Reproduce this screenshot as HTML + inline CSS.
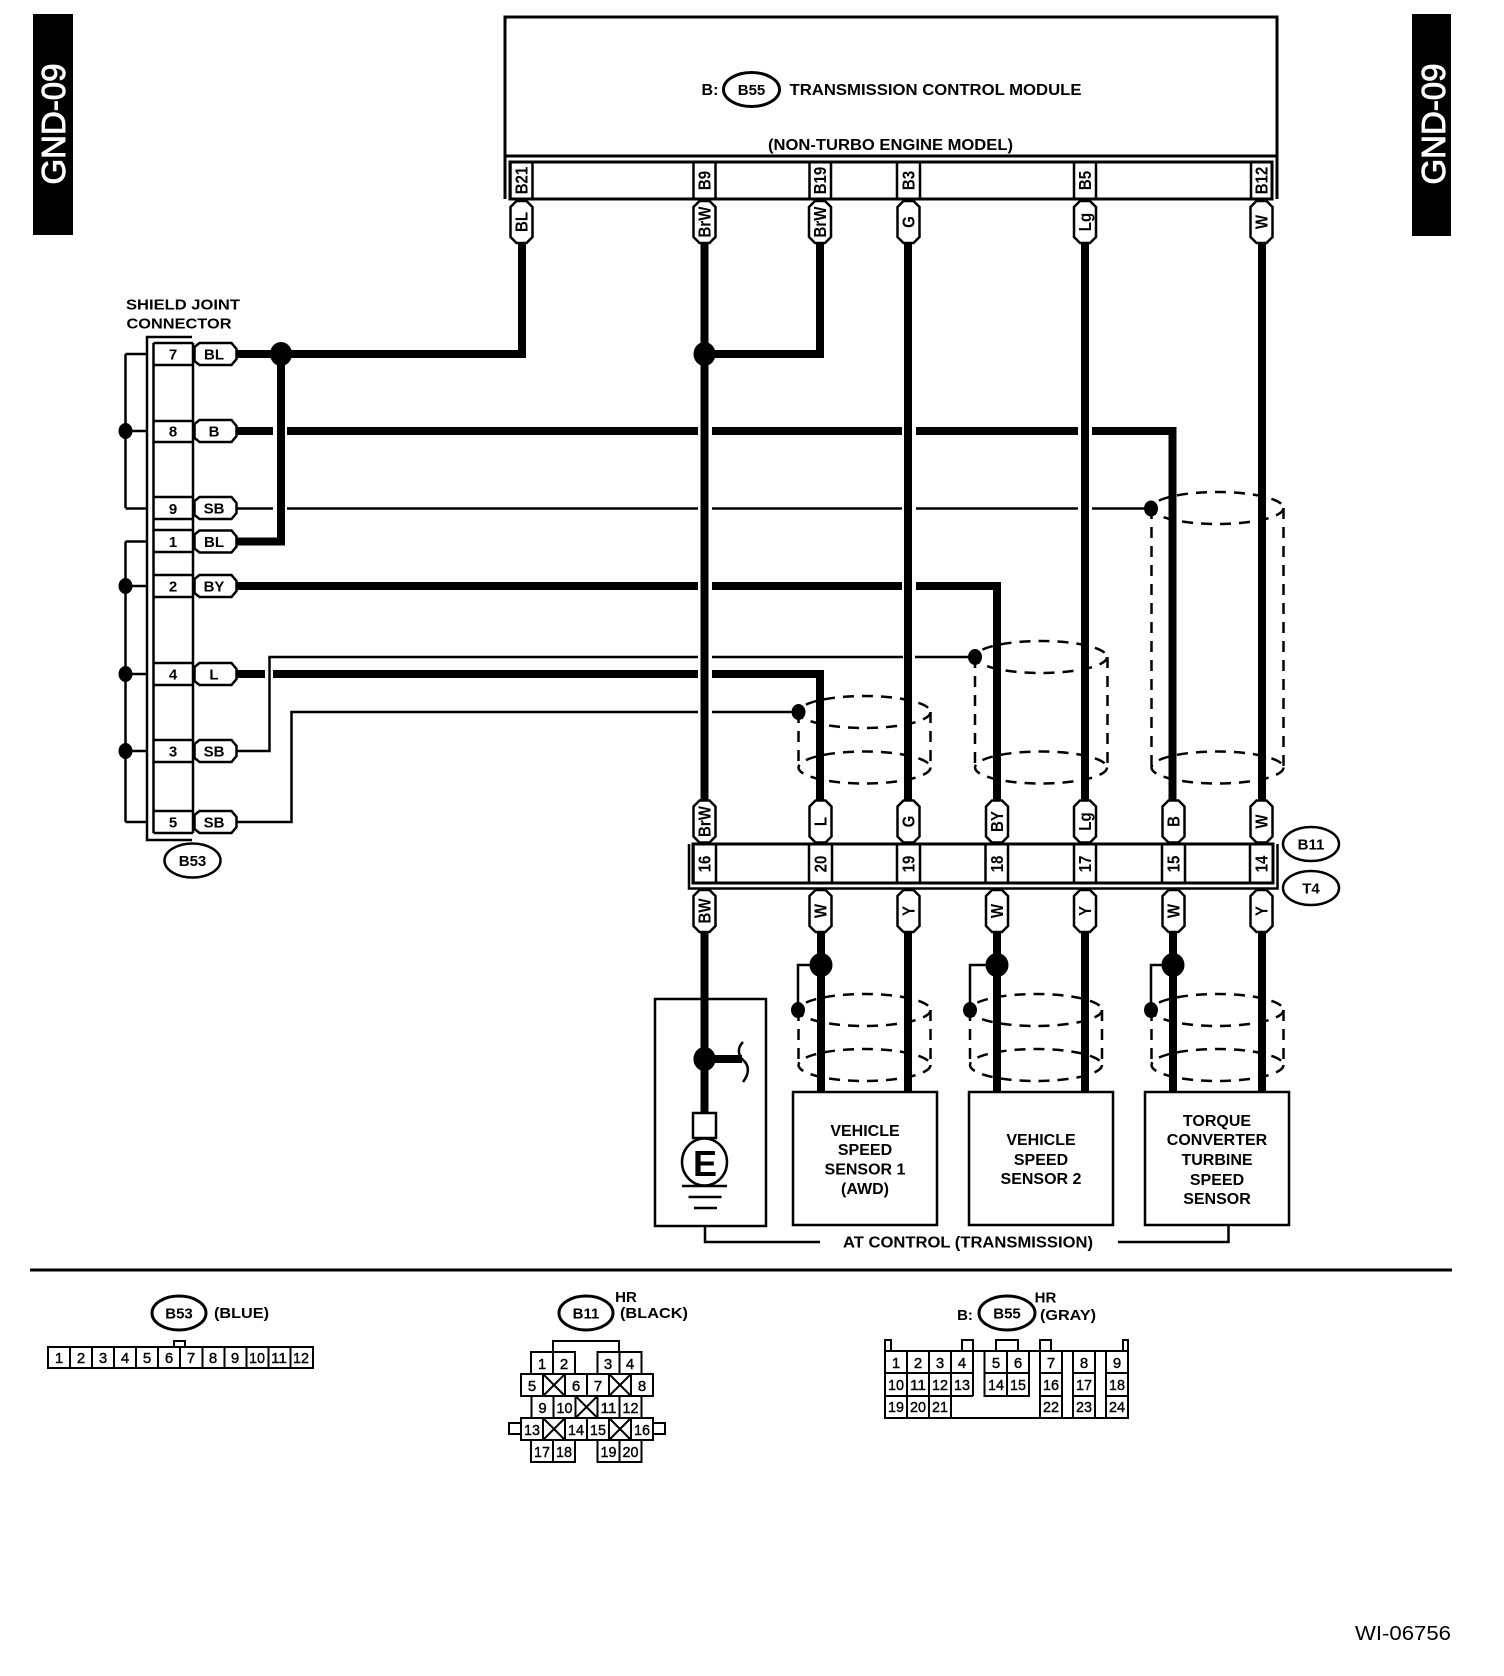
<!DOCTYPE html>
<html><head><meta charset="utf-8"><style>
html,body{margin:0;padding:0;background:#fff}
svg{display:block}
text{font-family:"Liberation Sans",sans-serif;fill:#000;text-anchor:middle}
.b{font-weight:bold;font-size:16px}
.s{font-weight:bold;font-size:15px}
.v{font-weight:bold;font-size:17.500px}
.n{font-size:15px;stroke:#000;stroke-width:.4}
.st{fill:none;stroke:#000;stroke-width:2.5}
.th{fill:none;stroke:#000;stroke-width:8}
.da{fill:none;stroke:#000;stroke-width:2.5;stroke-dasharray:11 8}
.c{fill:#fff;stroke:#000;stroke-width:2}
.p{fill:#fff;stroke:#000;stroke-width:2.5}
</style></head><body>
<svg width="1504" height="1676" viewBox="0 0 1504 1676" xmlns="http://www.w3.org/2000/svg">
<defs>
<polygon id="vp" points="-11,-15 -5,-21 5,-21 11,-15 11,15 5,21 -5,21 -11,15" class="p"/>
<polygon id="hp" points="-21,-7 -16,-11 16,-11 21,-5 21,5 16,11 -16,11 -21,7" class="p"/>
</defs>
<rect width="1504" height="1676" fill="#fff"/>

<!-- side tabs -->
<rect x="33" y="14" width="40" height="221" fill="#000"/>
<rect x="1412" y="14" width="39" height="222" fill="#000"/>
<text transform="translate(65,124) rotate(-90)" style="fill:#fff;stroke:#fff;stroke-width:.9;font-size:33px">GND-09</text>
<text transform="translate(1445,124) rotate(-90)" style="fill:#fff;stroke:#fff;stroke-width:.9;font-size:33px">GND-09</text>

<!-- TCM box -->
<path class="st" style="stroke-width:3" d="M505 199V17H1277V199M505 156H1277"/>
<rect x="510" y="162" width="762" height="37" class="st" style="stroke-width:3"/>
<text class="b" x="710" y="95">B:</text>
<ellipse cx="751.5" cy="89.5" rx="28" ry="17" class="st" style="stroke-width:3"/>
<text class="s" x="751.5" y="95">B55</text>
<text class="b" x="935.5" y="95" textLength="292" lengthAdjust="spacingAndGlyphs">TRANSMISSION CONTROL MODULE</text>
<text class="b" x="890.5" y="150" textLength="245" lengthAdjust="spacingAndGlyphs">(NON-TURBO ENGINE MODEL)</text>

<!-- cylinders -->
<ellipse class="da" cx="864.5" cy="712" rx="66" ry="16"/>
<ellipse class="da" cx="864.5" cy="767.5" rx="66" ry="16"/>
<path class="da" d="M798.5 712V767M930.5 712V767"/>
<ellipse class="da" cx="1041" cy="657" rx="66" ry="16"/>
<ellipse class="da" cx="1041" cy="767.5" rx="66" ry="16"/>
<path class="da" d="M975 657V767M1107.5 657V767"/>
<ellipse class="da" cx="1217.5" cy="508" rx="66" ry="16"/>
<ellipse class="da" cx="1217.5" cy="767.5" rx="66" ry="16"/>
<path class="da" d="M1151.5 508V767M1283.5 508V767"/>
<ellipse class="da" cx="864.5" cy="1010" rx="66" ry="16"/>
<ellipse class="da" cx="864.5" cy="1065" rx="66" ry="16"/>
<path class="da" d="M798.5 1010V1065M930.5 1010V1065"/>
<ellipse class="da" cx="1036" cy="1010" rx="66" ry="16"/>
<ellipse class="da" cx="1036" cy="1065" rx="66" ry="16"/>
<path class="da" d="M970 1010V1065M1102 1010V1065"/>
<ellipse class="da" cx="1217.5" cy="1010" rx="66" ry="16"/>
<ellipse class="da" cx="1217.5" cy="1065" rx="66" ry="16"/>
<path class="da" d="M1151.5 1010V1065M1283.5 1010V1065"/>

<!-- thin wires -->
<path class="st" d="M237 508.5H273M287 508.5H698M712 508.5H902M916 508.5H1078M1092 508.5H1151"/>
<path class="st" d="M237 751H269.5V657H698M712 657H903M915 657H975"/>
<path class="st" d="M237 822H291.5V712H698M712 712H798"/>
<path class="st" d="M798 1010V965H820M970 1010V965H997M1151 1010V965H1173"/>

<!-- thick wires -->
<path class="th" d="M237 354H522V244"/>
<path class="th" d="M281 354V541.5H237"/>
<path class="th" d="M704.5 244V800"/>
<path class="th" d="M704.5 354H820V244"/>
<path class="th" d="M908 244V800M1085 244V800M1262 244V800"/>
<path class="th" d="M237 431H273M287 431H698M712 431H902M916 431H1078M1092 431H1172.5V800"/>
<path class="th" d="M237 586H698M712 586H902M916 586H997V800"/>
<path class="th" d="M237 674H265M273 674H698M712 674H820V800"/>
<path class="th" d="M704.5 932V1113"/>
<path class="th" d="M821 932V1092M908 932V1092M997 932V1092M1085 932V1092M1173 932V1092M1262 932V1092"/>
<path class="th" d="M704 1059H742"/>

<!-- junction dots -->
<ellipse cx="281" cy="354" rx="11" ry="12"/>
<ellipse cx="704.5" cy="354" rx="11" ry="12"/>
<ellipse cx="704.5" cy="1059" rx="11" ry="12"/>
<ellipse cx="821" cy="965" rx="11.5" ry="12"/>
<ellipse cx="997" cy="965" rx="11.5" ry="12"/>
<ellipse cx="1173" cy="965" rx="11.5" ry="12"/>
<ellipse cx="1151" cy="508.5" rx="7" ry="8"/>
<ellipse cx="975" cy="657" rx="7" ry="8"/>
<ellipse cx="798.5" cy="712" rx="7" ry="8"/>
<ellipse cx="798" cy="1010" rx="7" ry="8"/>
<ellipse cx="970" cy="1010" rx="7" ry="8"/>
<ellipse cx="1151" cy="1010" rx="7" ry="8"/>

<!-- top pins -->
<path class="st" d="M510.5 162V199M532.5 162V199M693.5 162V199M715.5 162V199M809.5 162V199M831 162V199M897 162V199M920 162V199M1074 162V199M1096 162V199M1251 162V199M1272 162V199"/>
<text class="v" transform="translate(521.5,180.5) rotate(-90) scale(.86,1)" y="6">B21</text>
<text class="v" transform="translate(704.5,180.5) rotate(-90) scale(.86,1)" y="6">B9</text>
<text class="v" transform="translate(820,180.5) rotate(-90) scale(.86,1)" y="6">B19</text>
<text class="v" transform="translate(908.5,180.5) rotate(-90) scale(.86,1)" y="6">B3</text>
<text class="v" transform="translate(1085,180.5) rotate(-90) scale(.86,1)" y="6">B5</text>
<text class="v" transform="translate(1261.5,180.5) rotate(-90) scale(.86,1)" y="6">B12</text>
<use href="#vp" x="521.5" y="222"/><text class="v" transform="translate(521.5,222) rotate(-90) scale(.86,1)" y="6">BL</text>
<use href="#vp" x="704.5" y="222"/><text class="v" transform="translate(704.5,222) rotate(-90) scale(.86,1)" y="6">BrW</text>
<use href="#vp" x="820" y="222"/><text class="v" transform="translate(820,222) rotate(-90) scale(.86,1)" y="6">BrW</text>
<use href="#vp" x="908.5" y="222"/><text class="v" transform="translate(908.5,222) rotate(-90) scale(.86,1)" y="6">G</text>
<use href="#vp" x="1085" y="222"/><text class="v" transform="translate(1085,222) rotate(-90) scale(.86,1)" y="6">Lg</text>
<use href="#vp" x="1261.5" y="222"/><text class="v" transform="translate(1261.5,222) rotate(-90) scale(.86,1)" y="6">W</text>

<!-- shield joint connector -->
<text class="s" x="183" y="309.5" textLength="114" lengthAdjust="spacingAndGlyphs">SHIELD JOINT</text>
<text class="s" x="179" y="328.5" textLength="105" lengthAdjust="spacingAndGlyphs">CONNECTOR</text>
<path class="st" d="M192 337H147V840H192M153.5 343V833M193 343V833"/>
<path class="st" d="M125.5 354V508M147 354H125.5M147 431H125.5M147 508.5H125.5M125.5 541.5V822M147 541.5H125.5M147 586H125.5M147 674H125.5M147 751H125.5M147 822H125.5"/>
<ellipse cx="125.5" cy="431" rx="7" ry="8"/>
<ellipse cx="125.5" cy="586" rx="7" ry="8"/>
<ellipse cx="125.5" cy="674" rx="7" ry="8"/>
<ellipse cx="125.5" cy="751" rx="7" ry="8"/>
<path class="st" d="M153.5 343H193M153.5 365H193M153.5 421H193M153.5 442H193M153.5 497H193M153.5 519H193M153.5 530H193M153.5 552H193M153.5 575H193M153.5 597H193M153.5 663H193M153.5 685H193M153.5 740H193M153.5 762H193M153.5 811H193M153.5 833H193"/>
<g class="s">
<text class="s" x="173" y="359.5">7</text><text class="s" x="173" y="436.5">8</text><text class="s" x="173" y="514">9</text><text class="s" x="173" y="547">1</text><text class="s" x="173" y="591.5">2</text><text class="s" x="173" y="679.5">4</text><text class="s" x="173" y="756.5">3</text><text class="s" x="173" y="827.5">5</text>
</g>
<use href="#hp" x="215.5" y="354"/><text class="s" x="214" y="359.5">BL</text>
<use href="#hp" x="215.5" y="431"/><text class="s" x="214" y="436.5">B</text>
<use href="#hp" x="215.5" y="508"/><text class="s" x="214" y="513.5">SB</text>
<use href="#hp" x="215.5" y="541.5"/><text class="s" x="214" y="547">BL</text>
<use href="#hp" x="215.5" y="586"/><text class="s" x="214" y="591.5">BY</text>
<use href="#hp" x="215.5" y="674"/><text class="s" x="214" y="679.5">L</text>
<use href="#hp" x="215.5" y="751"/><text class="s" x="214" y="756.5">SB</text>
<use href="#hp" x="215.5" y="822"/><text class="s" x="214" y="827.5">SB</text>
<ellipse cx="192.5" cy="860.5" rx="28" ry="17" class="st"/>
<text class="s" x="192.5" y="866">B53</text>

<!-- lower connector -->
<rect x="693" y="844" width="580" height="39" class="st" style="stroke-width:3"/>
<path class="st" d="M689 844V888.5H1277.5V844"/>
<path class="st" d="M693.5 844V883M716 844V883M809 844V883M832 844V883M897 844V883M920 844V883M985.5 844V883M1008 844V883M1074 844V883M1096 844V883M1162 844V883M1185 844V883M1250 844V883M1273 844V883"/>
<text class="v" transform="translate(704.5,864) rotate(-90) scale(.86,1)" y="6">16</text>
<text class="v" transform="translate(820.5,864) rotate(-90) scale(.86,1)" y="6">20</text>
<text class="v" transform="translate(908.5,864) rotate(-90) scale(.86,1)" y="6">19</text>
<text class="v" transform="translate(997,864) rotate(-90) scale(.86,1)" y="6">18</text>
<text class="v" transform="translate(1085,864) rotate(-90) scale(.86,1)" y="6">17</text>
<text class="v" transform="translate(1173.5,864) rotate(-90) scale(.86,1)" y="6">15</text>
<text class="v" transform="translate(1261.5,864) rotate(-90) scale(.86,1)" y="6">14</text>
<use href="#vp" x="704.5" y="821.5"/><text class="v" transform="translate(704.5,821.5) rotate(-90) scale(.86,1)" y="6">BrW</text>
<use href="#vp" x="820.5" y="821.5"/><text class="v" transform="translate(820.5,821.5) rotate(-90) scale(.86,1)" y="6">L</text>
<use href="#vp" x="908.5" y="821.5"/><text class="v" transform="translate(908.5,821.5) rotate(-90) scale(.86,1)" y="6">G</text>
<use href="#vp" x="997" y="821.5"/><text class="v" transform="translate(997,821.5) rotate(-90) scale(.86,1)" y="6">BY</text>
<use href="#vp" x="1085" y="821.5"/><text class="v" transform="translate(1085,821.5) rotate(-90) scale(.86,1)" y="6">Lg</text>
<use href="#vp" x="1173.5" y="821.5"/><text class="v" transform="translate(1173.5,821.5) rotate(-90) scale(.86,1)" y="6">B</text>
<use href="#vp" x="1261.5" y="821.5"/><text class="v" transform="translate(1261.5,821.5) rotate(-90) scale(.86,1)" y="6">W</text>
<use href="#vp" x="704.5" y="911"/><text class="v" transform="translate(704.5,911) rotate(-90) scale(.86,1)" y="6">BW</text>
<use href="#vp" x="820.5" y="911"/><text class="v" transform="translate(820.5,911) rotate(-90) scale(.86,1)" y="6">W</text>
<use href="#vp" x="908.5" y="911"/><text class="v" transform="translate(908.5,911) rotate(-90) scale(.86,1)" y="6">Y</text>
<use href="#vp" x="997" y="911"/><text class="v" transform="translate(997,911) rotate(-90) scale(.86,1)" y="6">W</text>
<use href="#vp" x="1085" y="911"/><text class="v" transform="translate(1085,911) rotate(-90) scale(.86,1)" y="6">Y</text>
<use href="#vp" x="1173.5" y="911"/><text class="v" transform="translate(1173.5,911) rotate(-90) scale(.86,1)" y="6">W</text>
<use href="#vp" x="1261.5" y="911"/><text class="v" transform="translate(1261.5,911) rotate(-90) scale(.86,1)" y="6">Y</text>
<ellipse cx="1311" cy="844" rx="28" ry="17" class="st"/><text class="s" x="1311" y="849.5">B11</text>
<ellipse cx="1311" cy="888" rx="28" ry="17" class="st"/><text class="s" x="1311" y="893.5">T4</text>

<!-- ground box -->
<rect x="655" y="999" width="111" height="227" class="st"/>
<path class="th" d="M704.5 999V1113"/>
<ellipse cx="704.5" cy="1059" rx="11" ry="12"/>
<path class="th" d="M704 1059H742"/>
<path class="st" d="M743 1042C737 1048 738 1055 743 1060C749 1065 750 1073 743 1082"/>
<rect x="693" y="1113" width="23" height="25" class="p"/>
<ellipse cx="704.5" cy="1162" rx="22.5" ry="23.5" class="p"/>
<text x="705" y="1176" style="font-weight:bold;font-size:36px">E</text>
<path class="st" d="M682 1186H727M688.5 1197H721.5M694 1208H717"/>

<!-- sensors -->
<rect x="793" y="1092" width="144" height="133" class="p"/>
<rect x="969" y="1092" width="144" height="133" class="p"/>
<rect x="1145" y="1092" width="144" height="133" class="p"/>
<text class="b" x="865" y="1136">VEHICLE</text><text class="b" x="865" y="1155">SPEED</text><text class="b" x="865" y="1174.5">SENSOR 1</text><text class="b" x="865" y="1194">(AWD)</text>
<text class="b" x="1041" y="1145">VEHICLE</text><text class="b" x="1041" y="1165">SPEED</text><text class="b" x="1041" y="1184">SENSOR 2</text>
<text class="b" x="1217" y="1126">TORQUE</text><text class="b" x="1217" y="1145">CONVERTER</text><text class="b" x="1217" y="1165">TURBINE</text><text class="b" x="1217" y="1185">SPEED</text><text class="b" x="1217" y="1204">SENSOR</text>
<path class="st" d="M705 1226V1242H820M1118 1242H1228.5V1226"/>
<text class="b" x="968" y="1247.5" textLength="250" lengthAdjust="spacingAndGlyphs">AT CONTROL (TRANSMISSION)</text>

<!-- divider -->
<rect x="30" y="1268.5" width="1422" height="3" fill="#000"/>

<!-- B53 legend -->
<ellipse cx="179" cy="1313" rx="27" ry="17" class="st" style="stroke-width:3"/>
<text class="s" x="179" y="1318.5">B53</text>
<text class="s" x="241.5" y="1318" textLength="55" lengthAdjust="spacingAndGlyphs">(BLUE)</text>
<rect x="174" y="1341" width="11" height="6" class="c"/>
<rect x="48" y="1347" width="265" height="21" class="c"/>
<path class="c" d="M70 1347V1368M92 1347V1368M114 1347V1368M136 1347V1368M158 1347V1368M180 1347V1368M202.500 1347V1368M224.500 1347V1368M246.500 1347V1368M268.500 1347V1368M290.500 1347V1368"/>
<text class="n" x="59" y="1363">1</text><text class="n" x="81" y="1363">2</text><text class="n" x="103" y="1363">3</text><text class="n" x="125" y="1363">4</text><text class="n" x="147" y="1363">5</text><text class="n" x="169" y="1363">6</text><text class="n" x="191" y="1363">7</text><text class="n" x="213" y="1363">8</text><text class="n" x="235" y="1363">9</text><text class="n" x="257" y="1363" textLength="16" lengthAdjust="spacingAndGlyphs">10</text><text class="n" x="279" y="1363" textLength="16" lengthAdjust="spacingAndGlyphs">11</text><text class="n" x="301" y="1363" textLength="16" lengthAdjust="spacingAndGlyphs">12</text>

<!-- B11 legend -->
<ellipse cx="586" cy="1313" rx="27" ry="17" class="st" style="stroke-width:3"/>
<text class="s" x="586" y="1318.5">B11</text>
<text class="s" x="626" y="1302">HR</text>
<text class="s" x="654" y="1318" textLength="68" lengthAdjust="spacingAndGlyphs">(BLACK)</text>
<path class="c" d="M553 1352V1341H619V1352" style="fill:none"/>
<rect x="531" y="1352" width="44" height="22" class="c"/><path class="c" d="M553 1352V1374"/>
<rect x="597.500" y="1352" width="44" height="22" class="c"/><path class="c" d="M619.500 1352V1374"/>
<rect x="521" y="1374" width="132" height="22" class="c"/><path class="c" d="M543 1374V1396M565 1374V1396M587 1374V1396M609 1374V1396M631 1374V1396M543 1374L565 1396M565 1374L543 1396M609 1374L631 1396M631 1374L609 1396"/>
<rect x="531.500" y="1396" width="110" height="22" class="c"/><path class="c" d="M553.500 1396V1418M575.500 1396V1418M597.500 1396V1418M619.500 1396V1418M575.500 1396L597.500 1418M597.500 1396L575.500 1418" style="fill:none"/>
<rect x="509" y="1423" width="12" height="11" class="c"/><rect x="653" y="1423" width="12" height="11" class="c"/>
<rect x="521" y="1418" width="132" height="22" class="c"/><path class="c" d="M543 1418V1440M565 1418V1440M587 1418V1440M609 1418V1440M631 1418V1440M543 1418L565 1440M565 1418L543 1440M609 1418L631 1440M631 1418L609 1440"/>
<rect x="531" y="1440" width="44" height="22" class="c"/><path class="c" d="M553 1440V1462"/>
<rect x="597.500" y="1440" width="44" height="22" class="c"/><path class="c" d="M619.500 1440V1462"/>
<text class="n" x="542" y="1369">1</text><text class="n" x="564" y="1369">2</text><text class="n" x="608" y="1369">3</text><text class="n" x="630" y="1369">4</text>
<text class="n" x="532" y="1391">5</text><text class="n" x="576" y="1391">6</text><text class="n" x="598" y="1391">7</text><text class="n" x="642" y="1391">8</text>
<text class="n" x="542.500" y="1413">9</text><text class="n" x="564.500" y="1413" textLength="16" lengthAdjust="spacingAndGlyphs">10</text><text class="n" x="608.500" y="1413" textLength="16" lengthAdjust="spacingAndGlyphs">11</text><text class="n" x="630.500" y="1413" textLength="16" lengthAdjust="spacingAndGlyphs">12</text>
<text class="n" x="532" y="1435" textLength="16" lengthAdjust="spacingAndGlyphs">13</text><text class="n" x="576" y="1435" textLength="16" lengthAdjust="spacingAndGlyphs">14</text><text class="n" x="598" y="1435" textLength="16" lengthAdjust="spacingAndGlyphs">15</text><text class="n" x="642" y="1435" textLength="16" lengthAdjust="spacingAndGlyphs">16</text>
<text class="n" x="542" y="1457" textLength="16" lengthAdjust="spacingAndGlyphs">17</text><text class="n" x="564" y="1457" textLength="16" lengthAdjust="spacingAndGlyphs">18</text><text class="n" x="608.500" y="1457" textLength="16" lengthAdjust="spacingAndGlyphs">19</text><text class="n" x="630.500" y="1457" textLength="16" lengthAdjust="spacingAndGlyphs">20</text>

<!-- B55 legend -->
<text class="s" x="965" y="1320">B:</text>
<ellipse cx="1007" cy="1313" rx="28" ry="17" class="st" style="stroke-width:3"/>
<text class="s" x="1007" y="1318.5">B55</text>
<text class="s" x="1045.500" y="1302.500">HR</text>
<text class="s" x="1068" y="1320" textLength="56" lengthAdjust="spacingAndGlyphs">(GRAY)</text>
<path class="c" style="fill:none" d="M885 1351V1340H891V1351M962 1351V1340H973V1351M996 1351V1340H1018V1351M1040 1351V1340H1051V1351M1123 1351V1340H1128V1351"/>
<rect x="885" y="1351" width="243" height="67" class="c"/>
<path class="c" style="fill:none" d="M885 1373H973M885 1396H973M907 1351V1418M929 1351V1418M951 1351V1418M973 1351V1396M951 1396V1418"/>
<path class="c" style="fill:none" d="M984.500 1351V1396H1029V1351M984.500 1373H1029M1007 1351V1396"/>
<path class="c" style="fill:none" d="M1040 1351V1418M1062 1351V1418M1040 1373H1062M1040 1396H1062M1073 1351V1418M1095 1351V1418M1073 1373H1095M1073 1396H1095M1106 1351V1418M1106 1373H1128M1106 1396H1128"/>
<text class="n" x="896" y="1368">1</text><text class="n" x="918" y="1368">2</text><text class="n" x="940" y="1368">3</text><text class="n" x="962" y="1368">4</text><text class="n" x="996" y="1368">5</text><text class="n" x="1018" y="1368">6</text><text class="n" x="1051" y="1368">7</text><text class="n" x="1084" y="1368">8</text><text class="n" x="1117" y="1368">9</text>
<text class="n" x="896" y="1390" textLength="16" lengthAdjust="spacingAndGlyphs">10</text><text class="n" x="918" y="1390" textLength="16" lengthAdjust="spacingAndGlyphs">11</text><text class="n" x="940" y="1390" textLength="16" lengthAdjust="spacingAndGlyphs">12</text><text class="n" x="962" y="1390" textLength="16" lengthAdjust="spacingAndGlyphs">13</text><text class="n" x="996" y="1390" textLength="16" lengthAdjust="spacingAndGlyphs">14</text><text class="n" x="1018" y="1390" textLength="16" lengthAdjust="spacingAndGlyphs">15</text><text class="n" x="1051" y="1390" textLength="16" lengthAdjust="spacingAndGlyphs">16</text><text class="n" x="1084" y="1390" textLength="16" lengthAdjust="spacingAndGlyphs">17</text><text class="n" x="1117" y="1390" textLength="16" lengthAdjust="spacingAndGlyphs">18</text>
<text class="n" x="896" y="1412" textLength="16" lengthAdjust="spacingAndGlyphs">19</text><text class="n" x="918" y="1412" textLength="16" lengthAdjust="spacingAndGlyphs">20</text><text class="n" x="940" y="1412" textLength="16" lengthAdjust="spacingAndGlyphs">21</text><text class="n" x="1051" y="1412" textLength="16" lengthAdjust="spacingAndGlyphs">22</text><text class="n" x="1084" y="1412" textLength="16" lengthAdjust="spacingAndGlyphs">23</text><text class="n" x="1117" y="1412" textLength="16" lengthAdjust="spacingAndGlyphs">24</text>

<text x="1403" y="1640" style="font-size:20px" textLength="96" lengthAdjust="spacingAndGlyphs">WI-06756</text>
</svg>
</body></html>
